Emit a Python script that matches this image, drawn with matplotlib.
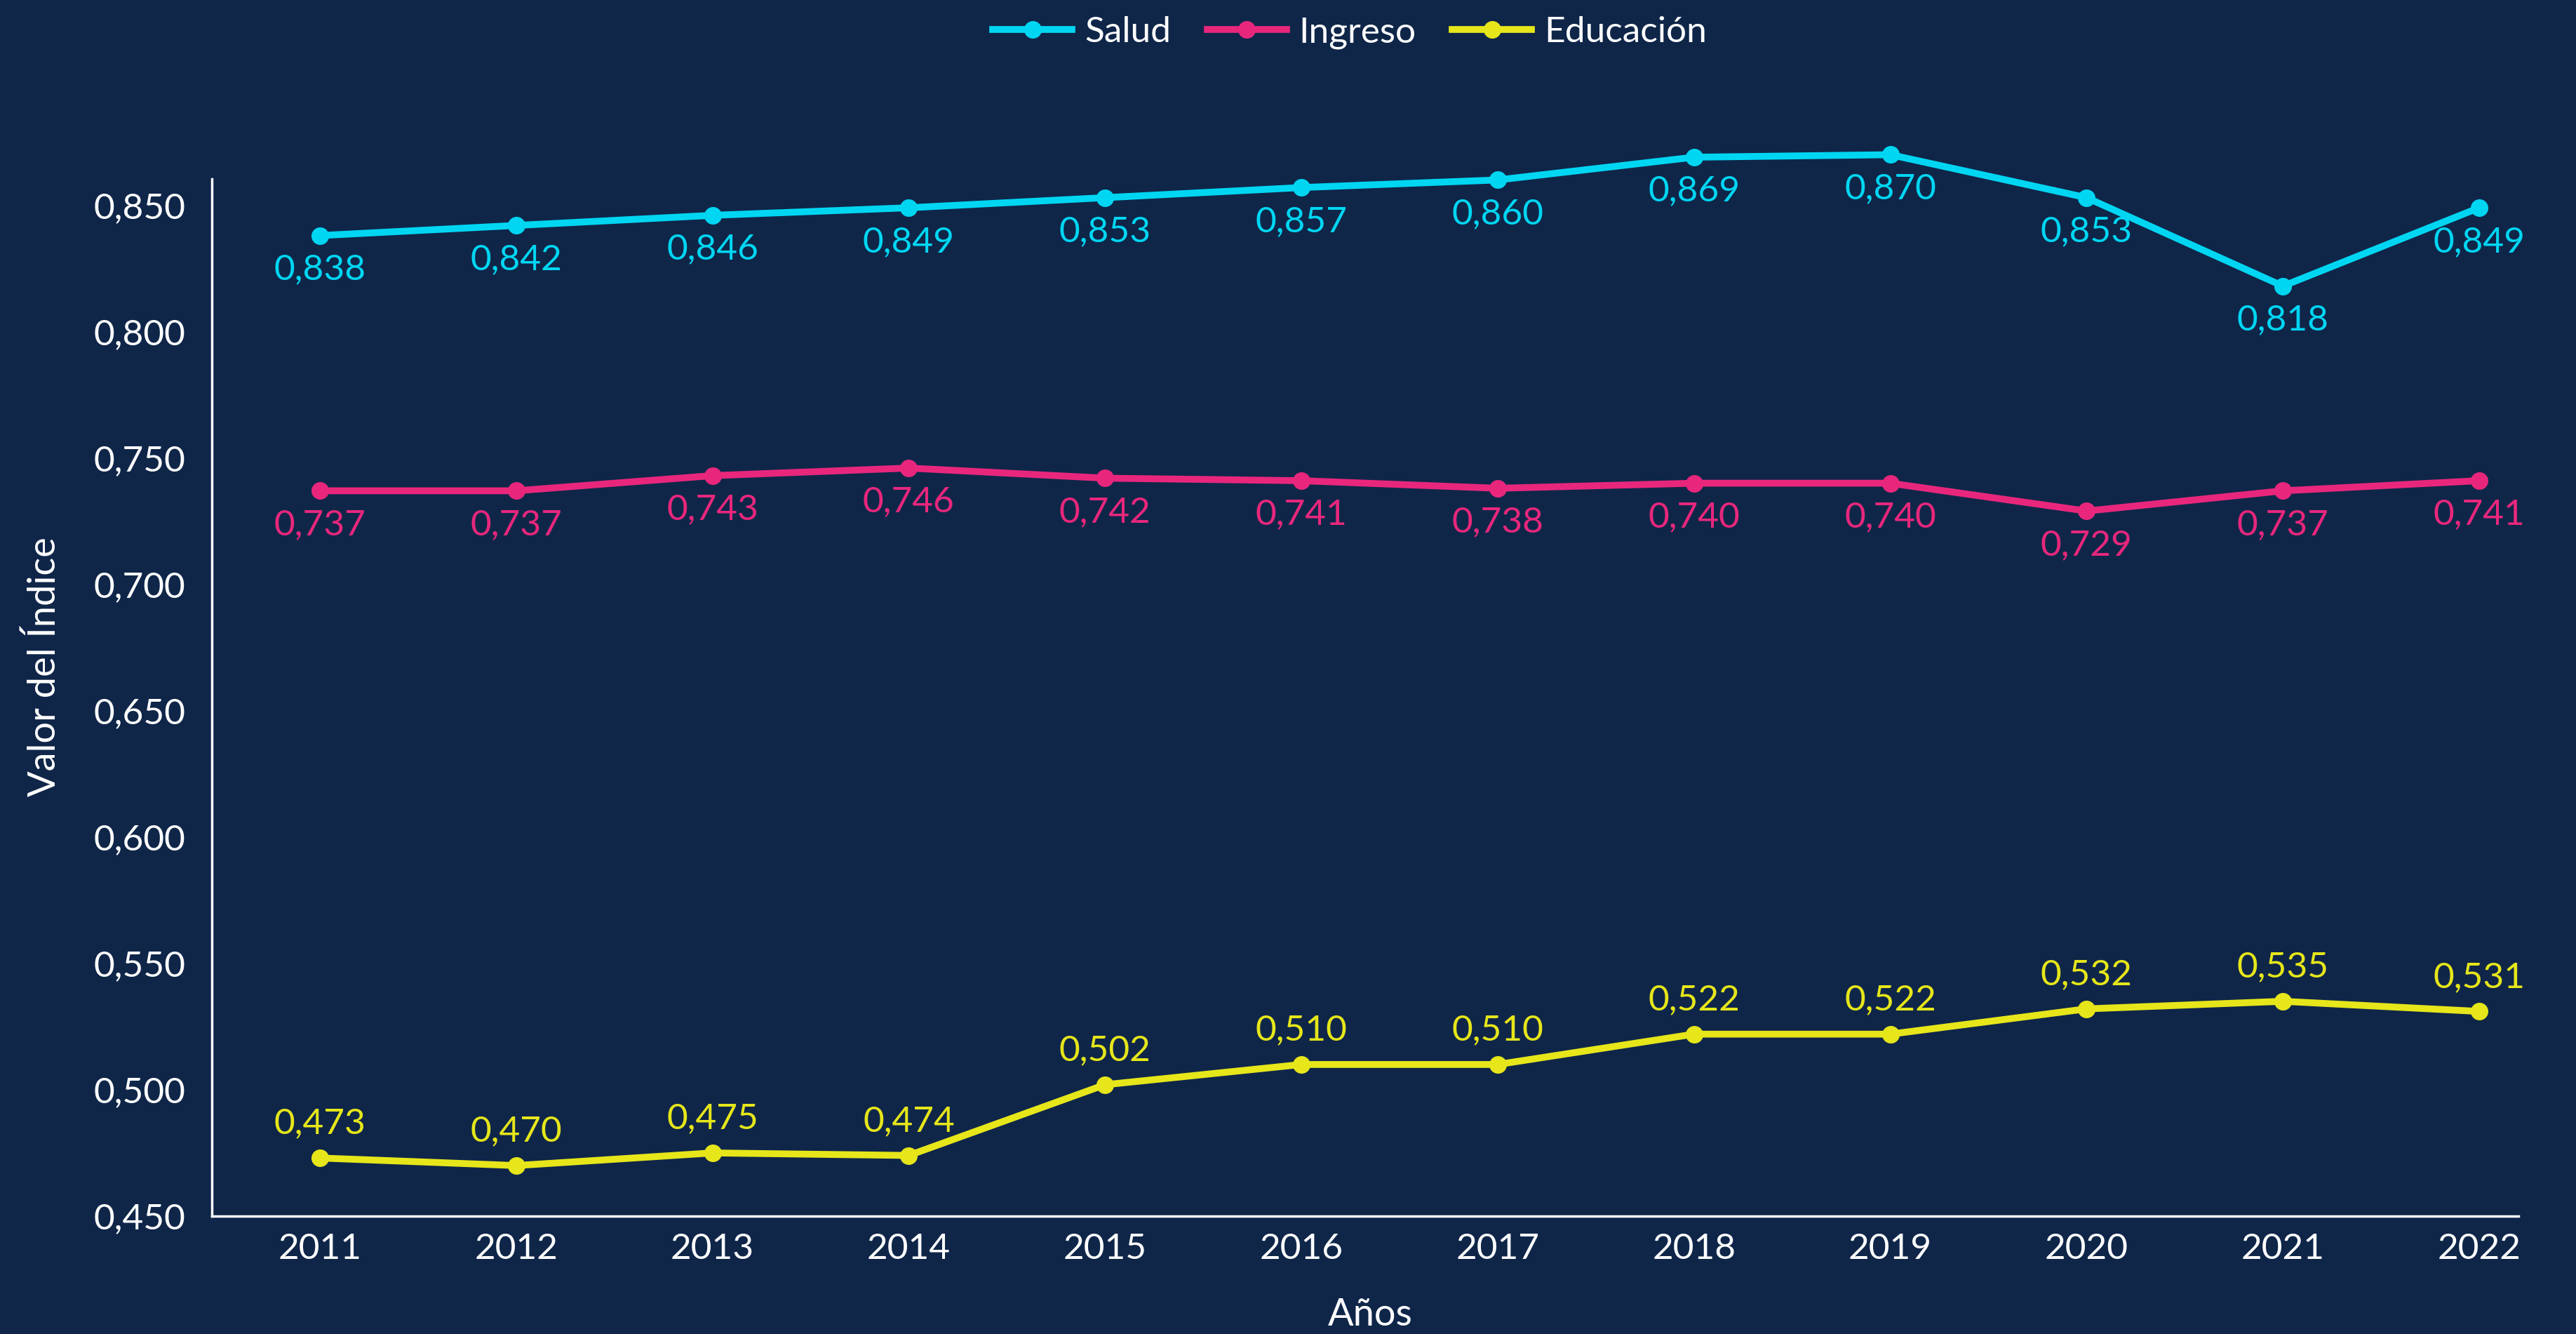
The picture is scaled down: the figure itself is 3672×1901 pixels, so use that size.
import matplotlib.pyplot as plt
from matplotlib.ticker import FuncFormatter

# datos
anios = [2011, 2012, 2013, 2014, 2015, 2016, 2017, 2018, 2019, 2020, 2021, 2022]
salud = [0.838, 0.842, 0.846, 0.849, 0.853, 0.857, 0.860, 0.869, 0.870, 0.853, 0.818, 0.849]
ingreso = [0.737, 0.737, 0.743, 0.746, 0.742, 0.741, 0.738, 0.740, 0.740, 0.729, 0.737, 0.741]
educacion = [0.473, 0.470, 0.475, 0.474, 0.502, 0.510, 0.510, 0.522, 0.522, 0.532, 0.535, 0.531]
yticks = [0.450, 0.500, 0.550, 0.600, 0.650, 0.700, 0.750, 0.800, 0.850]

bg = '#0f2649'
c_salud = '#00d6f2'
c_ingreso = '#e8277c'
c_educ = '#e6e61a'

plt.rcParams['font.family'] = ['Lato', 'DejaVu Sans']

def coma(v, pos=None):
    return ('%.3f' % v).replace('.', ',')

fig = plt.figure(figsize=(36.72, 19.01), dpi=100, facecolor=bg)
ax = fig.add_axes([302/3672, 1 - 1733/1901, (3590-302)/3672, (1733-255)/1901])
ax.set_facecolor(bg)

series = [('Salud', salud, c_salud, -1),
          ('Ingreso', ingreso, c_ingreso, -1),
          ('Educación', educacion, c_educ, 1)]
for nombre, vals, col, lado in series:
    ax.plot(anios, vals, color=col, lw=7, marker='o', ms=17, label=nombre, clip_on=False, zorder=3)
    for x, v in zip(anios, vals):
        ax.annotate(coma(v), (x, v), xytext=(0, 35*lado), textcoords='offset points',
                    ha='center', va='center', color=col, fontsize=37,
                    annotation_clip=False)

ax.set_xlim(2010.45, 2022.2)
ax.set_ylim(0.450, 0.8604)
ax.set_xticks(anios)
ax.set_yticks(yticks)
ax.yaxis.set_major_formatter(FuncFormatter(coma))
ax.tick_params(colors='white', labelsize=37, length=0, pad=27)
ax.tick_params(axis='x', pad=17)
for s in ['top', 'right']:
    ax.spines[s].set_visible(False)
for s in ['left', 'bottom']:
    ax.spines[s].set_color('white')
    ax.spines[s].set_linewidth(2.5)

fig.text(1953/3672, 1 - 1873/1901, 'Años', color='white', fontsize=39, ha='center', va='center')
fig.text(63/3672, 1 - 950/1901, 'Valor del Índice', color='white', fontsize=39,
         ha='center', va='center', rotation=90)

leg = ax.legend(loc='upper center', bbox_to_anchor=(0.524, 1.012), bbox_transform=fig.transFigure,
                ncol=3, frameon=False, fontsize=37, labelcolor='white', handlelength=2.2,
                handletextpad=0.35, columnspacing=1.0)

fig.savefig('out.png', dpi=100, facecolor=bg)
